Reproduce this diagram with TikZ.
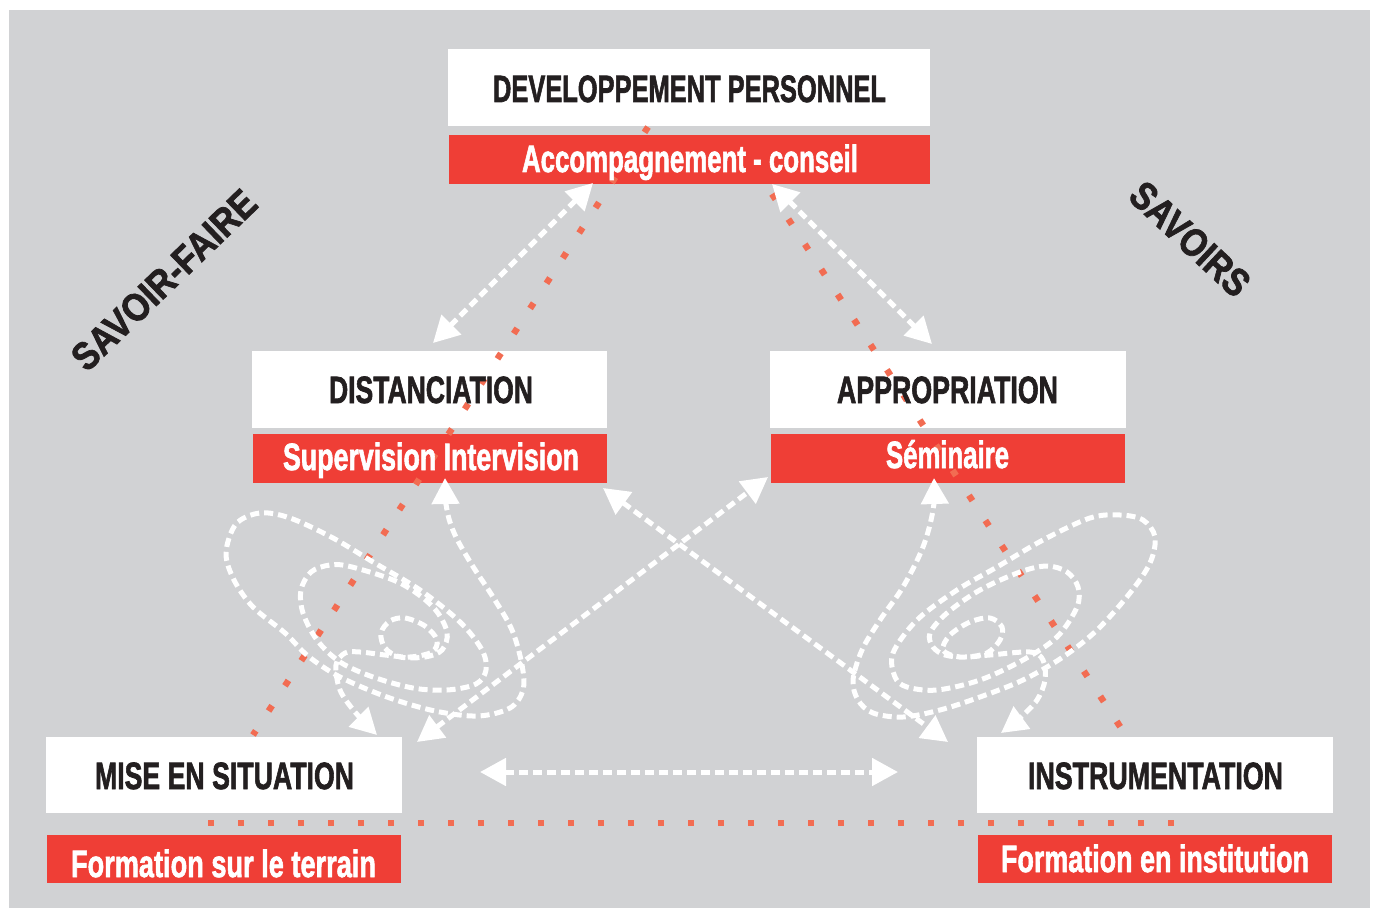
\documentclass[tikz,border=0pt]{standalone}
\usepackage{fontspec}
\setmainfont{Liberation Sans}[BoldFeatures={FakeBold=2}]
\usetikzlibrary{arrows.meta}
\definecolor{bgray}{RGB}{209,210,212}
\definecolor{boxred}{RGB}{239,62,54}
\definecolor{dotred}{RGB}{242,108,82}
\definecolor{ink}{RGB}{35,31,32}
\newcommand{\fitw}[2]{\resizebox{#1}{\height}{#2}}
\tikzset{
  wbox/.style={fill=white, draw=none, inner sep=0pt, outer sep=0pt, minimum height=38.5pt},
  rbox/.style={fill=boxred, draw=none, inner sep=0pt, outer sep=0pt, minimum height=24.5pt},
  blk/.style={anchor=base, inner sep=0pt, text=ink, font=\fontsize{19}{22}\selectfont\bfseries},
  wht/.style={anchor=base, inner sep=0pt, text=white, font=\fontsize{19}{22}\selectfont\bfseries},
  side/.style={inner sep=0pt, text=ink, font=\fontsize{19.5}{22}\selectfont\bfseries},
  flow/.style={draw=white, line width=2.5pt, dash pattern=on 4.5pt off 2.5pt,
    {Triangle[length=13pt,width=13.5pt]}-{Triangle[length=13pt,width=13.5pt]}},
  dotline/.style={draw=dotred, line width=3.2pt, dash pattern=on 3.2pt off 11.8pt},
}
\begin{document}
\begin{tikzpicture}[x=0.5pt,y=-0.5pt]
\useasboundingbox (0,0) rectangle (1380,909);
\fill[white] (0,0) rectangle (1380,909);
\fill[bgray] (9,10) rectangle (1370,908);

% boxes
\node[wbox, minimum width=241pt] (dev) at (689,87.5) {};
\node[rbox, minimum width=240.5pt] (devR) at (689.5,159.5) {};
\node[wbox, minimum width=177.5pt] (dis) at (429.5,389.5) {};
\node[rbox, minimum width=177pt] (disR) at (430,458.5) {};
\node[wbox, minimum width=178pt] (app) at (948,389.5) {};
\node[rbox, minimum width=177pt] (appR) at (948,458.5) {};
\node[wbox, minimum width=178pt, minimum height=38pt] (mis) at (224,775) {};
\node[rbox, minimum width=177pt, minimum height=24pt] (misR) at (224,859) {};
\node[wbox, minimum width=178pt, minimum height=38pt] (ins) at (1155,775) {};
\node[rbox, minimum width=177pt, minimum height=24pt] (insR) at (1155,859) {};

% red dotted lines
\coordinate (dl1) at (648,127);
\coordinate (dl2) at (253,735);
\coordinate (dr1) at (772,194);
\coordinate (dr2) at (1121,728);
\coordinate (dh1) at (208,823);
\coordinate (dh2) at (1180,823);
\draw[dotline] (dl1) -- (dl2);
\draw[dotline] (dr1) -- (dr2);
\draw[dotline] (dh1) -- (dh2);

% white dashed arrows
\coordinate (tlA) at (593,183);
\coordinate (tlB) at (433,343);
\coordinate (trA) at (772,184);
\coordinate (trB) at (932,344);
\coordinate (hA) at (480,772);
\coordinate (hB) at (898,772);
\coordinate (xaA) at (417,742);
\coordinate (xaB) at (768,477);
\coordinate (xbA) at (603,488);
\coordinate (xbB) at (948,742);
\coordinate (supTip) at (445,478);
\coordinate (misTip) at (377,735);
\coordinate (semTip) at (934,478);
\coordinate (insTip) at (1001,733);

\draw[flow] (tlA) -- (tlB);
\draw[flow] (trA) -- (trB);
\draw[flow] (hA) -- (hB);
\draw[flow] (xaA) -- (xaB);
\draw[flow] (xbA) -- (xbB);

\draw[flow] plot[smooth, tension=0.55] coordinates {(supTip) (447,510) (455,535) (472,565) (493,597) (512,630) (522,665) (523,690) (510,708) (478,716) (435,711) (387,697) (340,677) (308,656) (285,633) (253,607) (234,580) (226,553) (236,524) (260,513) (290,518) (333,538) (373,562) (420,590) (460,622) (482,650) (486,670) (476,684) (447,690) (413,688) (373,677) (340,662) (317,640) (303,613) (301,590) (311,572) (330,565) (352,567) (400,583) (433,607) (447,632) (442,650) (425,657) (400,657) (385,648) (381,633) (390,621) (405,618) (425,626) (437,640) (432,652) (410,657) (385,655) (360,652) (345,653) (336,665) (340,690) (355,712) (misTip)};

\draw[flow] plot[smooth, tension=0.55] coordinates {(semTip) (933,510) (923,547) (903,587) (880,620) (862,650) (853,680) (858,700) (873,713) (903,717) (940,710) (980,697) (1023,680) (1063,657) (1097,630) (1130,593) (1150,563) (1155,537) (1143,520) (1120,515) (1090,518) (1043,540) (997,567) (957,590) (917,620) (893,653) (895,677) (907,687) (937,690) (980,680) (1023,660) (1057,637) (1077,607) (1078,587) (1067,572) (1047,566) (1020,572) (980,590) (947,613) (930,633) (933,647) (945,655) (965,657) (987,653) (1000,640) (1002,627) (990,618) (970,622) (950,635) (943,650) (960,657) (990,655) (1030,652) (1043,660) (1045,680) (1037,700) (1020,718) (insTip)};

% texts
\node[blk] (devT) at (689.5,102) {\fitw{196.5pt}{DEVELOPPEMENT PERSONNEL}};
\node[wht] (devRT) at (690,172) {\fitw{168pt}{Accompagnement - conseil}};
\node[blk] (disT) at (431,403) {\fitw{102pt}{DISTANCIATION}};
\node[wht] (disRT) at (431,470) {\fitw{148pt}{Supervision Intervision}};
\node[blk] (appT) at (947.5,403) {\fitw{110.5pt}{APPROPRIATION}};
\node[wht] (appRT) at (947.5,468) {\fitw{61.5pt}{Séminaire}};
\node[blk] (misT) at (224.5,789) {\fitw{129.5pt}{MISE EN SITUATION}};
\node[wht] (misRT) at (223.5,877) {\fitw{152.5pt}{Formation sur le terrain}};
\node[blk] (insT) at (1155.5,789) {\fitw{127.5pt}{INSTRUMENTATION}};
\node[wht] (insRT) at (1155,872) {\fitw{154pt}{Formation en institution}};

\node[side, rotate=44] (sf) at (164,280) {\fitw{120pt}{SAVOIR-FAIRE}};
\node[side, rotate=-43] (sv) at (1190,239) {\fitw{74pt}{SAVOIRS}};
\end{tikzpicture}
\end{document}
